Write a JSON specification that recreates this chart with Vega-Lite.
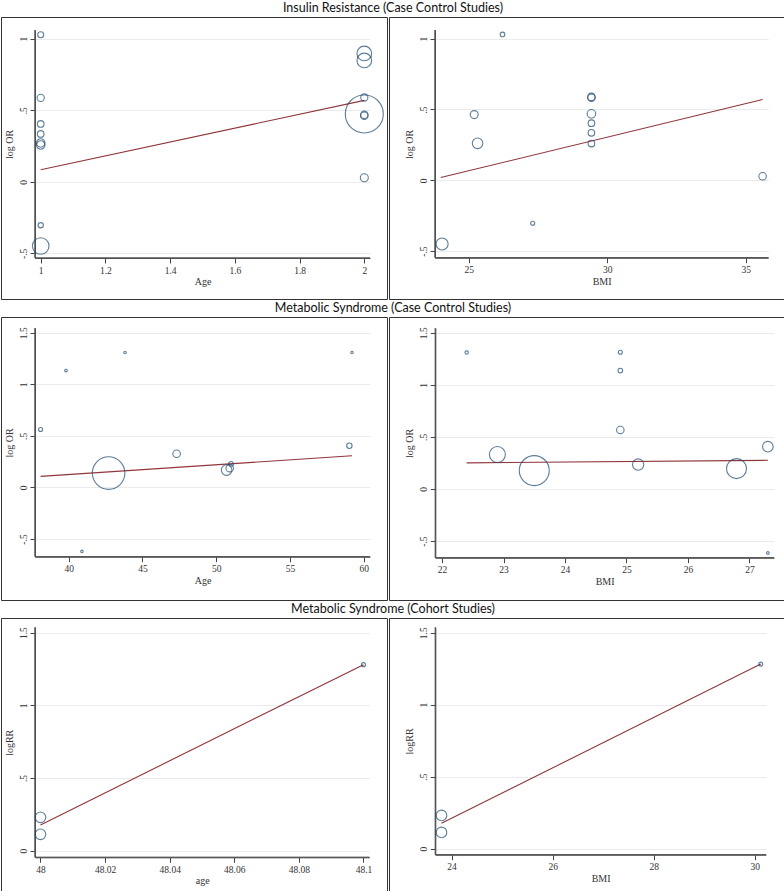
{
  "$schema": "https://vega.github.io/schema/vega-lite/v6.json",
  "padding": 0,
  "background": "white",
  "spacing": 0,
  "config": {
    "view": {"stroke": "#333333", "strokeWidth": 1},
    "axis": {
      "labelFont": "Liberation Serif", "titleFont": "Liberation Serif",
      "labelFontSize": 9.5, "titleFontSize": 10, "titleFontWeight": "normal",
      "domainColor": "#444444", "tickColor": "#444444", "labelColor": "#333333", "titleColor": "#333333",
      "tickSize": 5, "gridColor": "#ebebeb", "labelFlush": false, "labelOverlap": false,
      "labelPadding": 2, "titlePadding": 2
    },
    "axisX": {"grid": false},
    "axisY": {"grid": true, "labelAngle": 270, "labelAlign": "center", "labelBaseline": "bottom", "titlePadding": 4},
    "point": {"shape": "circle", "filled": false, "color": "#1a476f", "strokeWidth": 1.1},
    "line": {"color": "#90353b", "strokeWidth": 1.1},
    "rule": {"color": "#555555", "strokeWidth": 1}
  },
  "datasets": {
    "ir_age": [
      {"age": 1, "logor": 1.028, "weight": 9},
      {"age": 1, "logor": 0.586, "weight": 13},
      {"age": 1, "logor": 0.404, "weight": 11},
      {"age": 1, "logor": 0.334, "weight": 11},
      {"age": 1, "logor": 0.271, "weight": 18},
      {"age": 1, "logor": 0.257, "weight": 18},
      {"age": 1, "logor": -0.304, "weight": 7},
      {"age": 1, "logor": -0.449, "weight": 69},
      {"age": 2, "logor": 0.897, "weight": 54},
      {"age": 2, "logor": 0.848, "weight": 54},
      {"age": 2, "logor": 0.589, "weight": 13},
      {"age": 2, "logor": 0.474, "weight": 361},
      {"age": 2, "logor": 0.468, "weight": 14},
      {"age": 2, "logor": 0.462, "weight": 14},
      {"age": 2, "logor": 0.028, "weight": 16}
    ],
    "ir_age_fit": [{"age": 1, "logor": 0.084}, {"age": 2, "logor": 0.569}],
    "ir_bmi": [
      {"bmi": 26.22, "logor": 1.03, "weight": 5.3},
      {"bmi": 25.2, "logor": 0.464, "weight": 16},
      {"bmi": 25.32, "logor": 0.261, "weight": 28},
      {"bmi": 29.43, "logor": 0.589, "weight": 14},
      {"bmi": 29.43, "logor": 0.584, "weight": 14},
      {"bmi": 29.43, "logor": 0.469, "weight": 18.5},
      {"bmi": 29.43, "logor": 0.403, "weight": 11},
      {"bmi": 29.43, "logor": 0.335, "weight": 11},
      {"bmi": 29.43, "logor": 0.259, "weight": 11},
      {"bmi": 27.31, "logor": -0.304, "weight": 4},
      {"bmi": 24.04, "logor": -0.45, "weight": 36},
      {"bmi": 35.61, "logor": 0.028, "weight": 14}
    ],
    "ir_bmi_fit": [{"bmi": 23.99, "logor": 0.019}, {"bmi": 35.61, "logor": 0.57}],
    "ms_age": [
      {"age": 38.1, "logor": 0.562, "weight": 4},
      {"age": 39.82, "logor": 1.133, "weight": 1.7},
      {"age": 43.82, "logor": 1.308, "weight": 1.5},
      {"age": 40.9, "logor": -0.62, "weight": 1.5},
      {"age": 42.71, "logor": 0.139, "weight": 265},
      {"age": 47.32, "logor": 0.326, "weight": 14},
      {"age": 50.71, "logor": 0.168, "weight": 28},
      {"age": 50.92, "logor": 0.187, "weight": 14},
      {"age": 51.01, "logor": 0.229, "weight": 5.3},
      {"age": 59.03, "logor": 0.404, "weight": 7.3},
      {"age": 59.21, "logor": 1.308, "weight": 1.5}
    ],
    "ms_age_fit": [{"age": 38.1, "logor": 0.107}, {"age": 59.21, "logor": 0.307}],
    "ms_bmi": [
      {"bmi": 22.4, "logor": 1.309, "weight": 2.9},
      {"bmi": 24.9, "logor": 1.312, "weight": 4},
      {"bmi": 24.9, "logor": 1.136, "weight": 5.3},
      {"bmi": 24.9, "logor": 0.566, "weight": 14},
      {"bmi": 22.9, "logor": 0.33, "weight": 64},
      {"bmi": 23.5, "logor": 0.176, "weight": 225},
      {"bmi": 25.19, "logor": 0.234, "weight": 32},
      {"bmi": 26.79, "logor": 0.195, "weight": 100},
      {"bmi": 27.3, "logor": 0.406, "weight": 28},
      {"bmi": 27.3, "logor": -0.614, "weight": 1.7}
    ],
    "ms_bmi_fit": [{"bmi": 22.4, "logor": 0.25}, {"bmi": 27.3, "logor": 0.275}],
    "co_age": [
      {"age": 48, "logrr": 0.229, "weight": 28},
      {"age": 48, "logrr": 0.112, "weight": 28},
      {"age": 48.1, "logrr": 1.28, "weight": 4}
    ],
    "co_age_fit": [{"age": 48, "logrr": 0.177}, {"age": 48.1, "logrr": 1.28}],
    "co_bmi": [
      {"bmi": 23.8, "logrr": 0.231, "weight": 28},
      {"bmi": 23.8, "logrr": 0.113, "weight": 28},
      {"bmi": 30.12, "logrr": 1.282, "weight": 4}
    ],
    "co_bmi_fit": [{"bmi": 23.8, "logrr": 0.176}, {"bmi": 30.12, "logrr": 1.282}]
  },
  "vconcat": [
    {
      "width": 784, "height": 16,
      "data": {"values": [{"label": "Insulin Resistance (Case Control Studies)"}]},
      "mark": {"type": "text", "font": "Lato", "fontSize": 12.5, "color": "#111111"},
      "encoding": {"text": {"field": "label"}}
    },
    {
      "hconcat": [
        {
          "width": 386, "height": 282,
          "encoding": {
            "x": {"field": "age", "type": "quantitative", "scale": {"domain": [0.9824, 2.0176], "range": [34, 369], "nice": false, "zero": false},
              "axis": {"title": "Age", "values": [1, 1.2, 1.4, 1.6, 1.8, 2], "format": "~g", "offset": -41}},
            "y": {"field": "logor", "type": "quantitative", "scale": {"domain": [-0.533, 1.0608], "range": [241, 13], "nice": false, "zero": false},
              "axis": {"title": "log OR", "values": [-0.5, 0, 0.5, 1], "format": "~g", "labelExpr": "replace(replace(datum.label, '−', '-'), '0.', '.')", "offset": -34}}
          },
          "layer": [
            {"data": {"name": "ir_age_fit"}, "mark": {"type": "rule"}, "encoding": {"x": {"datum": 0.9824}, "x2": {"datum": 2.0176}, "y": {"datum": -0.533}}},
            {"data": {"name": "ir_age_fit"}, "mark": {"type": "rule"}, "encoding": {"x": {"datum": 0.9824}, "y": {"datum": -0.533}, "y2": {"datum": 1.0608}}},
            {"data": {"name": "ir_age_fit"}, "mark": {"type": "line"}},
            {"data": {"name": "ir_age"}, "mark": {"type": "point"},
              "encoding": {"size": {"field": "weight", "type": "quantitative", "scale": {"domain": [0, 100], "range": [0, 400]}, "legend": null}}}
          ]
        },
        {
          "width": 398, "height": 282,
          "encoding": {
            "x": {"field": "bmi", "type": "quantitative", "scale": {"domain": [23.783, 35.816], "range": [46, 379.3], "nice": false, "zero": false},
              "axis": {"title": "BMI", "values": [25, 30, 35], "format": "~g", "offset": -41.3}},
            "y": {"field": "logor", "type": "quantitative", "scale": {"domain": [-0.547, 1.0615], "range": [240.7, 13], "nice": false, "zero": false},
              "axis": {"title": "log OR", "values": [-0.5, 0, 0.5, 1], "format": "~g", "labelExpr": "replace(replace(datum.label, '−', '-'), '0.', '.')", "offset": -46}}
          },
          "layer": [
            {"data": {"name": "ir_bmi_fit"}, "mark": {"type": "rule"}, "encoding": {"x": {"datum": 23.783}, "x2": {"datum": 35.816}, "y": {"datum": -0.547}}},
            {"data": {"name": "ir_bmi_fit"}, "mark": {"type": "rule"}, "encoding": {"x": {"datum": 23.783}, "y": {"datum": -0.547}, "y2": {"datum": 1.0615}}},
            {"data": {"name": "ir_bmi_fit"}, "mark": {"type": "line"}},
            {"data": {"name": "ir_bmi"}, "mark": {"type": "point"},
              "encoding": {"size": {"field": "weight", "type": "quantitative", "scale": {"domain": [0, 100], "range": [0, 400]}, "legend": null}}}
          ]
        }
      ],
      "spacing": 0
    },
    {
      "width": 784, "height": 16,
      "data": {"values": [{"label": "Metabolic Syndrome (Case Control Studies)"}]},
      "mark": {"type": "text", "font": "Lato", "fontSize": 12.5, "color": "#111111"},
      "encoding": {"text": {"field": "label"}}
    },
    {
      "hconcat": [
        {
          "width": 386, "height": 283,
          "encoding": {
            "x": {"field": "age", "type": "quantitative", "scale": {"domain": [37.72, 60.43], "range": [34, 369], "nice": false, "zero": false},
              "axis": {"title": "Age", "values": [40, 45, 50, 55, 60], "format": "~g", "offset": -43.3}},
            "y": {"field": "logor", "type": "quantitative", "scale": {"domain": [-0.6716, 1.5456], "range": [239.7, 11], "nice": false, "zero": false},
              "axis": {"title": "log OR", "values": [-0.5, 0, 0.5, 1, 1.5], "format": "~g", "labelExpr": "replace(replace(datum.label, '−', '-'), '0.', '.')", "offset": -34}}
          },
          "layer": [
            {"data": {"name": "ms_age_fit"}, "mark": {"type": "rule"}, "encoding": {"x": {"datum": 37.72}, "x2": {"datum": 60.43}, "y": {"datum": -0.6716}}},
            {"data": {"name": "ms_age_fit"}, "mark": {"type": "rule"}, "encoding": {"x": {"datum": 37.72}, "y": {"datum": -0.6716}, "y2": {"datum": 1.5456}}},
            {"data": {"name": "ms_age_fit"}, "mark": {"type": "line"}},
            {"data": {"name": "ms_age"}, "mark": {"type": "point"},
              "encoding": {"size": {"field": "weight", "type": "quantitative", "scale": {"domain": [0, 100], "range": [0, 400]}, "legend": null}}}
          ]
        },
        {
          "width": 398, "height": 283,
          "encoding": {
            "x": {"field": "bmi", "type": "quantitative", "scale": {"domain": [21.89, 27.4], "range": [46.3, 385], "nice": false, "zero": false},
              "axis": {"title": "BMI", "values": [22, 23, 24, 25, 26, 27], "format": "~g", "offset": -42.3}},
            "y": {"field": "logor", "type": "quantitative", "scale": {"domain": [-0.66, 1.545], "range": [240.7, 11], "nice": false, "zero": false},
              "axis": {"title": "log OR", "values": [-0.5, 0, 0.5, 1, 1.5], "format": "~g", "labelExpr": "replace(replace(datum.label, '−', '-'), '0.', '.')", "offset": -46.3}}
          },
          "layer": [
            {"data": {"name": "ms_bmi_fit"}, "mark": {"type": "rule"}, "encoding": {"x": {"datum": 21.89}, "x2": {"datum": 27.4}, "y": {"datum": -0.66}}},
            {"data": {"name": "ms_bmi_fit"}, "mark": {"type": "rule"}, "encoding": {"x": {"datum": 21.89}, "y": {"datum": -0.66}, "y2": {"datum": 1.545}}},
            {"data": {"name": "ms_bmi_fit"}, "mark": {"type": "line"}},
            {"data": {"name": "ms_bmi"}, "mark": {"type": "point"},
              "encoding": {"size": {"field": "weight", "type": "quantitative", "scale": {"domain": [0, 100], "range": [0, 400]}, "legend": null}}}
          ]
        }
      ],
      "spacing": 0
    },
    {
      "width": 784, "height": 16,
      "data": {"values": [{"label": "Metabolic Syndrome (Cohort Studies)"}]},
      "mark": {"type": "text", "font": "Lato", "fontSize": 12.5, "color": "#111111"},
      "encoding": {"text": {"field": "label"}}
    },
    {
      "hconcat": [
        {
          "width": 386, "height": 278,
          "encoding": {
            "x": {"field": "age", "type": "quantitative", "scale": {"domain": [47.9983, 48.1018], "range": [34, 368.3], "nice": false, "zero": false},
              "axis": {"title": "age", "values": [48, 48.02, 48.04, 48.06, 48.08, 48.1], "format": "~g", "offset": -38.7}},
            "y": {"field": "logrr", "type": "quantitative", "scale": {"domain": [-0.046, 1.537], "range": [239.3, 9.3], "nice": false, "zero": false},
              "axis": {"title": "logRR", "values": [0, 0.5, 1, 1.5], "format": "~g", "labelExpr": "replace(replace(datum.label, '−', '-'), '0.', '.')", "offset": -34}}
          },
          "layer": [
            {"data": {"name": "co_age_fit"}, "mark": {"type": "rule"}, "encoding": {"x": {"datum": 47.9983}, "x2": {"datum": 48.1018}, "y": {"datum": -0.046}}},
            {"data": {"name": "co_age_fit"}, "mark": {"type": "rule"}, "encoding": {"x": {"datum": 47.9983}, "y": {"datum": -0.046}, "y2": {"datum": 1.537}}},
            {"data": {"name": "co_age_fit"}, "mark": {"type": "line"}},
            {"data": {"name": "co_age"}, "mark": {"type": "point"},
              "encoding": {"size": {"field": "weight", "type": "quantitative", "scale": {"domain": [0, 100], "range": [0, 400]}, "legend": null}}}
          ]
        },
        {
          "width": 398, "height": 278,
          "encoding": {
            "x": {"field": "bmi", "type": "quantitative", "scale": {"domain": [23.677, 30.224], "range": [46.3, 377], "nice": false, "zero": false},
              "axis": {"title": "BMI", "values": [24, 26, 28, 30], "format": "~g", "offset": -41.3}},
            "y": {"field": "logrr", "type": "quantitative", "scale": {"domain": [-0.042, 1.5375], "range": [236.7, 9.3], "nice": false, "zero": false},
              "axis": {"title": "logRR", "values": [0, 0.5, 1, 1.5], "format": "~g", "labelExpr": "replace(replace(datum.label, '−', '-'), '0.', '.')", "offset": -46.3}}
          },
          "layer": [
            {"data": {"name": "co_bmi_fit"}, "mark": {"type": "rule"}, "encoding": {"x": {"datum": 23.677}, "x2": {"datum": 30.224}, "y": {"datum": -0.042}}},
            {"data": {"name": "co_bmi_fit"}, "mark": {"type": "rule"}, "encoding": {"x": {"datum": 23.677}, "y": {"datum": -0.042}, "y2": {"datum": 1.5375}}},
            {"data": {"name": "co_bmi_fit"}, "mark": {"type": "line"}},
            {"data": {"name": "co_bmi"}, "mark": {"type": "point"},
              "encoding": {"size": {"field": "weight", "type": "quantitative", "scale": {"domain": [0, 100], "range": [0, 400]}, "legend": null}}}
          ]
        }
      ],
      "spacing": 0
    }
  ]
}
